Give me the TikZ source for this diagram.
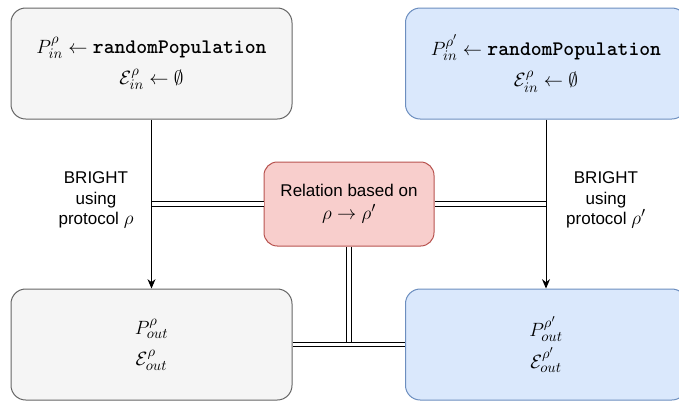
\documentclass[tikz,border=0pt]{standalone}
\usepackage{fontspec}
\newfontfamily\labelfont{Liberation Sans}
\usetikzlibrary{arrows.meta}
\definecolor{grayfill}{HTML}{F5F5F5}
\definecolor{graydraw}{HTML}{666666}
\definecolor{bluefill}{HTML}{DAE8FC}
\definecolor{bluedraw}{HTML}{6C8EBF}
\definecolor{redfill}{HTML}{F8CECC}
\definecolor{reddraw}{HTML}{B85450}
\newcommand{\bigrho}[1]{{\fontsize{15}{15}\selectfont$#1$}}

\begin{document}
\begin{tikzpicture}[x=0.75pt,y=-0.75pt,
    popbox/.style={rectangle,rounded corners=11pt,line width=0.75pt,
      minimum width=210.75pt,minimum height=83.25pt,align=center,
      font=\fontsize{15.5}{23.5}\selectfont},
    rhobox/.style={popbox,fill=grayfill,draw=graydraw},
    rhoprimebox/.style={popbox,fill=bluefill,draw=bluedraw},
    relbox/.style={rectangle,rounded corners=10pt,line width=0.75pt,
      fill=redfill,draw=reddraw,minimum width=127.5pt,minimum height=63pt,
      align=center,font=\labelfont\fontsize{12.75}{17}\selectfont},
    steplabel/.style={align=center,font=\labelfont\fontsize{12.75}{15.3}\selectfont},
    flow/.style={line width=0.75pt,-{Stealth[length=7pt,width=6pt]}},
    link/.style={double,double distance=2.4pt,line width=0.75pt}]
    \useasboundingbox (0,0) rectangle (679,401);

    %%%% Input populations %%%%%%%%%%%%%%%%%%%%%%%%%%%%%%%%%%%%%%%%%%%%%%%
    \node[rhobox] (inrho) at (151.5,63.5)
      {$P^{\rho}_{in} \leftarrow \textbf{\texttt{randomPopulation}}$\\
       $\mathcal{E}^{\rho}_{in} \leftarrow \emptyset$};
    \node[rhoprimebox] (inrhop) at (546,63.5)
      {$P^{\rho'}_{in} \leftarrow \textbf{\texttt{randomPopulation}}$\\
       $\mathcal{E}^{\rho}_{in} \leftarrow \emptyset$};

    %%%% Output populations %%%%%%%%%%%%%%%%%%%%%%%%%%%%%%%%%%%%%%%%%%%%%%
    \node[rhobox] (outrho) at (151.5,344.5)
      {$P^{\rho}_{out}$\\ $\mathcal{E}^{\rho}_{out}$};
    \node[rhoprimebox] (outrhop) at (546,344.5)
      {$P^{\rho'}_{out}$\\ $\mathcal{E}^{\rho'}_{out}$};

    %%%% Relation %%%%%%%%%%%%%%%%%%%%%%%%%%%%%%%%%%%%%%%%%%%%%%%%%%%%%%%%
    \node[relbox] (rel) at (349,204)
      {Relation based on\\ \bigrho{\rho \rightarrow \rho'}};

    \node[steplabel] (runrho) at (96,200)
      {BRIGHT\\ using\\ protocol \bigrho{\rho}};
    \node[steplabel] (runrhop) at (606,200)
      {BRIGHT\\ using\\ protocol \bigrho{\rho'}};

    \coordinate (leftjoin) at (inrho.south |- rel.west);
    \coordinate (rightjoin) at (inrhop.south |- rel.east);
    \coordinate (bottomjoin) at (rel.south |- outrho.east);

    \draw[link] (leftjoin) -- (rel.west);
    \draw[link] (rel.east) -- (rightjoin);
    \draw[link] (rel.south) -- (bottomjoin);
    \draw[link] (outrho.east) -- (outrhop.west);

    \draw[flow] (inrho.south) -- (outrho.north);
    \draw[flow] (inrhop.south) -- (outrhop.north);
\end{tikzpicture}
\end{document}
